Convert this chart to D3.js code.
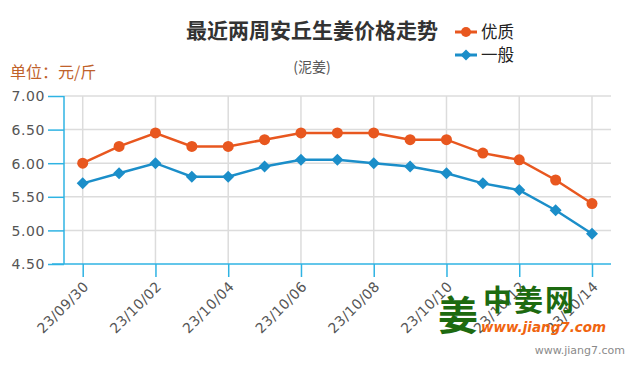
<!DOCTYPE html>
<html><head><meta charset="utf-8">
<script src="https://cdn.jsdelivr.net/npm/d3@7/dist/d3.min.js"></script>
<style>body{margin:0;background:#fff}svg{display:block;font-family:"DejaVu Sans","Noto Sans CJK SC",sans-serif}</style>
</head><body><svg id="c" width="635" height="375"></svg>
<script>
const dates = ["23/09/30","23/10/01","23/10/02","23/10/03","23/10/04","23/10/05","23/10/06","23/10/07","23/10/08","23/10/09","23/10/10","23/10/11","23/10/12","23/10/13","23/10/14"];
const premium = [6.00,6.25,6.45,6.25,6.25,6.35,6.45,6.45,6.45,6.35,6.35,6.15,6.05,5.75,5.40];
const normal = [5.70,5.85,6.00,5.80,5.80,5.95,6.05,6.05,6.00,5.95,5.85,5.70,5.60,5.30,4.95];
const yTicks = [4.5,5.0,5.5,6.0,6.5,7.0];
const seriesNames = ["优质","一般"];
const labelTicks = dates.filter((d,i)=>i%2===0);

const svg = d3.select("#c");
const orange = "#e8571f", blue = "#1b8ec9", axisC = "#2fb3e3", gridC = "#dcdcdc";
const x = d3.scalePoint().domain(dates).range([82.7, 592]);
const y = d3.scaleLinear().domain([4.5, 7.0]).range([264, 96]);
const L = 64, R = 611;

svg.append("g").selectAll("line").data(yTicks.slice(1)).join("line")
  .attr("x1", L).attr("x2", R).attr("y1", d=>y(d)).attr("y2", d=>y(d))
  .attr("stroke", gridC).attr("stroke-width", 1.5);
svg.append("g").selectAll("line").data(labelTicks).join("line")
  .attr("x1", d=>x(d)).attr("x2", d=>x(d)).attr("y1", 96).attr("y2", 264)
  .attr("stroke", gridC).attr("stroke-width", 1.5);

const ya = svg.append("g").attr("transform", `translate(${L},0)`)
  .call(d3.axisLeft(y).tickValues(yTicks).tickFormat(d3.format(".2f")).tickSize(16).tickPadding(3));
ya.select(".domain").attr("stroke", axisC).attr("stroke-width", 1.5).attr("d", `M0,${y(7)}V${y(4.5)}`);
ya.selectAll(".tick line").attr("stroke", axisC).attr("stroke-width", 1.5);
ya.selectAll(".tick text").attr("fill", "#555").attr("font-size", 14).attr("letter-spacing", 0.6)
  .attr("font-family", "DejaVu Sans, sans-serif").attr("dy", "0.35em");

const xa = svg.append("g").attr("transform", `translate(0,264)`)
  .call(d3.axisBottom(x).tickValues(labelTicks).tickSize(13).tickPadding(4));
xa.select(".domain").attr("stroke", axisC).attr("stroke-width", 1.5).attr("d", `M52,0H${R}`);
xa.selectAll(".tick line").attr("stroke", axisC).attr("stroke-width", 1.5);
xa.selectAll(".tick text").attr("fill", "#555").attr("font-size", 14).attr("letter-spacing", 0.4)
  .attr("font-family", "DejaVu Sans, sans-serif")
  .attr("text-anchor", "end").attr("dy", "0.35em")
  .attr("transform", "translate(3,20) rotate(-45)").attr("x", 0).attr("y", 0);

const line = d3.line().x((d,i)=>x(dates[i])).y(d=>y(d));
svg.append("path").datum(premium).attr("d", line).attr("fill","none").attr("stroke", orange).attr("stroke-width", 2.5);
svg.append("path").datum(normal).attr("d", line).attr("fill","none").attr("stroke", blue).attr("stroke-width", 2.5);
svg.append("g").selectAll("circle").data(premium).join("circle")
  .attr("cx",(d,i)=>x(dates[i])).attr("cy", d=>y(d)).attr("r", 5.5).attr("fill", orange);
const dia = "M0,-6L6,0L0,6L-6,0Z";
svg.append("g").selectAll("path").data(normal).join("path")
  .attr("d", dia).attr("transform",(d,i)=>`translate(${x(dates[i])},${y(d)})`).attr("fill", blue);

svg.append("text").attr("x", 312).attr("y", 38).attr("text-anchor","middle")
  .attr("font-size", 21).attr("font-weight","bold").attr("fill","#333")
  .attr("font-family","Noto Sans CJK SC, sans-serif").text("最近两周安丘生姜价格走势");
svg.append("text").attr("x", 312).attr("y", 72).attr("text-anchor","middle")
  .attr("font-size", 14).attr("fill","#555").attr("font-family","Noto Sans CJK SC, sans-serif").text("(泥姜)");
svg.append("text").attr("x", 10).attr("y", 78)
  .attr("font-size", 16).attr("fill","#c0622b").attr("font-family","Noto Sans CJK SC, sans-serif").text("单位：元/斤");

const lg = svg.append("g");
[[orange,"circle",32],[blue,"diamond",55]].forEach((c,i)=>{
  lg.append("line").attr("x1",455).attr("x2",477).attr("y1",c[2]).attr("y2",c[2]).attr("stroke",c[0]).attr("stroke-width",3);
  if(c[1]==="circle") lg.append("circle").attr("cx",466).attr("cy",c[2]).attr("r",5).attr("fill",c[0]);
  else lg.append("path").attr("d", "M0,-5.5L5.5,0L0,5.5L-5.5,0Z").attr("transform",`translate(466,${c[2]})`).attr("fill",c[0]);
  lg.append("text").attr("x",481).attr("y",c[2]).attr("dy","0.35em").attr("font-size",16.5)
    .attr("fill","#222").attr("font-family","Noto Sans CJK SC, sans-serif").text(seriesNames[i]);
});

svg.append("text").attr("x", 438).attr("y", 330).attr("font-size", 40).attr("font-weight","bold")
  .attr("fill","#1d6a10").attr("font-family","Noto Sans CJK SC, sans-serif").text("姜");
svg.append("text").attr("x", 483).attr("y", 311).attr("font-size", 29).attr("font-weight","bold")
  .attr("fill","#1d6a10").attr("font-family","Noto Sans CJK SC, sans-serif").attr("letter-spacing", 2).text("中姜网");
svg.append("text").attr("x", 481).attr("y", 332).attr("font-size", 13.5).attr("font-weight","bold").attr("font-style","italic")
  .attr("fill","#f0650f").attr("font-family","DejaVu Sans, sans-serif").text("www.jiang7.com");
svg.append("text").attr("x", 625).attr("y", 354).attr("text-anchor","end").attr("font-size", 11)
  .attr("fill","#8a8a8a").attr("font-family","DejaVu Sans, sans-serif").text("www.jiang7.com");
</script></body></html>
